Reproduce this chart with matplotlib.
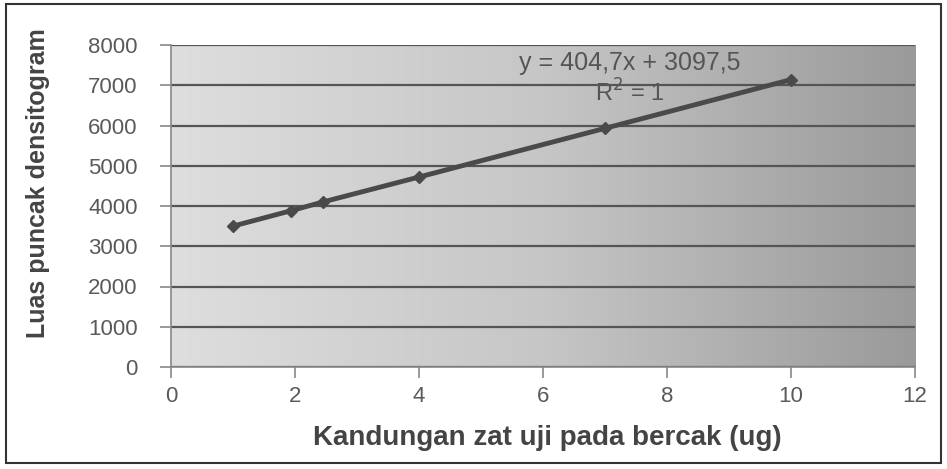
import matplotlib
matplotlib.use("Agg")
import matplotlib.pyplot as plt
import numpy as np
from matplotlib.patches import Rectangle
from matplotlib.colors import LinearSegmentedColormap

plt.rcParams["font.family"] = ["Liberation Sans", "DejaVu Sans"]

x_vals = [1.0, 1.93, 2.45, 4.0, 7.0, 10.0]
y_vals = [3500, 3880, 4100, 4720, 5930, 7140]
x_ticks = [0, 2, 4, 6, 8, 10, 12]
y_ticks = [0, 1000, 2000, 3000, 4000, 5000, 6000, 7000, 8000]
x_label = "Kandungan zat uji pada bercak (ug)"
y_label = "Luas puncak densitogram"
eq_text = "y = 404,7x + 3097,5"
r2_text = "R$^2$ = 1"

fig = plt.figure(figsize=(9.47, 4.69), dpi=100)
fig.patch.set_facecolor("white")
ax = fig.add_axes([171/947, 1-367/469, (915-171)/947, (367-45)/469])

grad = np.linspace(0, 1, 256)[None, :]
cmap = LinearSegmentedColormap.from_list("g", ["#dedede", "#c6c6c6", "#9a9a9a"])
ax.imshow(grad, extent=[0, 1, 0, 1], transform=ax.transAxes, cmap=cmap,
          aspect="auto", zorder=0)

ax.set_xlim(0, 12)
ax.set_ylim(0, 8000)
ax.set_yticks(y_ticks)
ax.set_xticks(x_ticks)
ax.set_yticklabels([str(v) for v in y_ticks])
ax.set_xticklabels([str(v) for v in x_ticks])
for y in y_ticks:
    ax.axhline(y, color="#555555", lw=1.6, zorder=1)

ax.plot(x_vals, y_vals, color="#4a4a4a", lw=3.5, marker="D", ms=6,
        markerfacecolor="#4a4a4a", zorder=3)

for s in ["top", "right"]:
    ax.spines[s].set_visible(False)
ax.spines["left"].set_color("#888888")
ax.spines["bottom"].set_color("#888888")
ax.spines["left"].set_linewidth(1.2)
ax.spines["bottom"].set_linewidth(1.2)
ax.tick_params(axis="both", colors="#888888", length=8, width=1.2,
               labelsize=16, labelcolor="#5a5a5a")
ax.tick_params(axis="y", pad=16)
ax.tick_params(axis="x", pad=6)

ax.set_xlabel(x_label, fontsize=20, fontweight="bold", color="#444444")
ax.xaxis.set_label_coords((547-171)/744, -(425-367)/322)
ax.set_ylabel(y_label, fontsize=18, fontweight="bold", color="#444444")
ax.yaxis.set_label_coords((50-171)/744, (367-183)/322)

ax.text(7.4, 7550, eq_text, fontsize=18, color="#555555", ha="center", va="center", zorder=4)
ax.text(7.4, 6800, r2_text, fontsize=17, color="#555555", ha="center", va="center", zorder=4)

fig.patches.append(Rectangle((6/947, 1-463/469), (941-6)/947, (463-4)/469,
                             transform=fig.transFigure, fill=False,
                             edgecolor="#333333", lw=1.5))

fig.savefig("out.png", dpi=100)
